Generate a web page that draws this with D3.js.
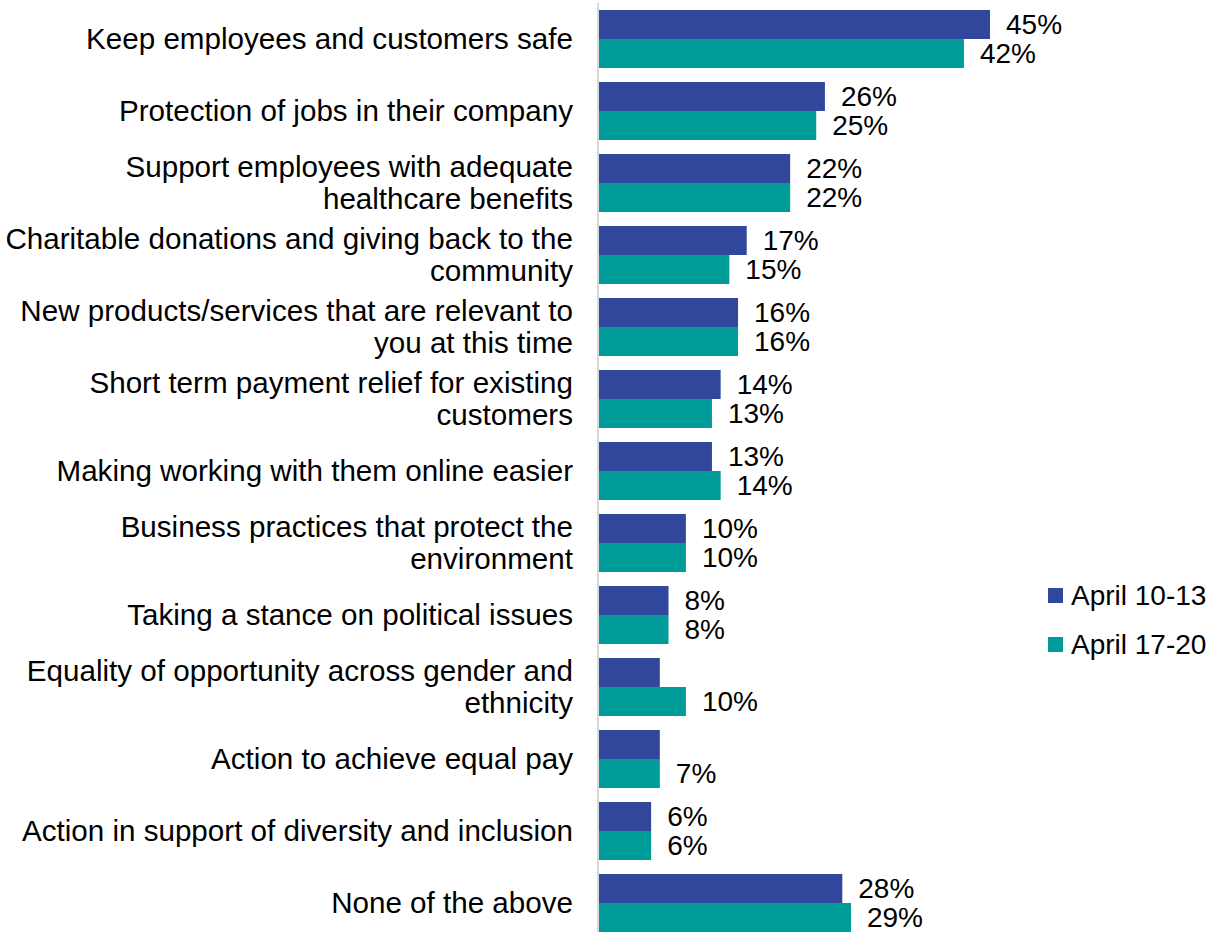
<!DOCTYPE html>
<html>
<head>
<meta charset="utf-8">
<script src="https://cdn.jsdelivr.net/npm/d3@7"></script>
<style>
    body { margin: 0; background: #fff; }
    text { font-family: "Liberation Sans", Arial, sans-serif; fill: #000; }
</style>
</head>
<body>
<div id="mainDiv"></div>
<script>
// categories, top to bottom ("|" marks a line break)
var categories = [
    'Keep employees and customers safe',
    'Protection of jobs in their company',
    'Support employees with adequate|healthcare benefits',
    'Charitable donations and giving back to the|community',
    'New products/services that are relevant to|you at this time',
    'Short term payment relief for existing|customers',
    'Making working with them online easier',
    'Business practices that protect the|environment',
    'Taking a stance on political issues',
    'Equality of opportunity across gender and|ethnicity',
    'Action to achieve equal pay',
    'Action in support of diversity and inclusion',
    'None of the above'
];
var seriesNames = [ 'April 10-13', 'April 17-20' ];
var april10 = [ 45, 26, 22, 17, 16, 14, 13, 10, 8, 7, 7, 6, 28 ];
var april17 = [ 42, 25, 22, 15, 16, 13, 14, 10, 8, 10, 7, 6, 29 ];
// data labels as shown (some are missing in the original)
var april10Labels = [ '45%', '26%', '22%', '17%', '16%', '14%', '13%', '10%', '8%', '', '', '6%', '28%' ];
var april17Labels = [ '42%', '25%', '22%', '15%', '16%', '13%', '14%', '10%', '8%', '10%', '7%', '6%', '29%' ];
var colors = [ '#31479b', '#009c9a' ];

var _width = 1214, _height = 932,
    _left = 598, _top = 3, _step = 72,
    _series = [ april10, april17 ],
    _labels = [ april10Labels, april17Labels ];

var svg = d3.select( '#mainDiv' )
    .append( 'svg' )
    .attr( 'width', _width )
    .attr( 'height', _height );

var x = d3.scaleLinear()
    .domain( [ 0, 45 ] )
    .range( [ _left + 1, _left + 1 + 391 ] );

var y = d3.scaleBand()
    .domain( d3.range( categories.length ) )
    .range( [ _top, _top + _step * categories.length ] )
    .paddingInner( 14 / 72 )
    .paddingOuter( 7 / 72 );

var ySub = d3.scaleBand()
    .domain( [ 0, 1 ] )
    .range( [ 0, y.bandwidth() ] );

// bars
var groups = svg.append( 'g' )
    .selectAll( 'g' )
    .data( categories )
    .join( 'g' )
    .attr( 'transform', function ( d, i ) { return 'translate(0,' + y( i ) + ')'; } );

groups.each( function ( d, i ) {
    var g = d3.select( this );
    _series.forEach( function ( s, k ) {
        g.append( 'rect' )
            .attr( 'x', x( 0 ) )
            .attr( 'y', ySub( k ) )
            .attr( 'width', x( s[ i ] ) - x( 0 ) )
            .attr( 'height', ySub.bandwidth() )
            .attr( 'fill', colors[ k ] );
        if ( _labels[ k ][ i ] ) {
            g.append( 'text' )
                .attr( 'x', x( s[ i ] ) + 16 )
                .attr( 'y', ySub( k ) + ySub.bandwidth() / 2 )
                .attr( 'dy', '0.35em' )
                .style( 'font-size', '28px' )
                .text( _labels[ k ][ i ] );
        }
    } );
} );

// axis line
svg.append( 'g' )
    .attr( 'transform', 'translate(' + _left + ',0)' )
    .call( d3.axisLeft( y ).tickSize( 0 ).tickFormat( '' ) )
    .call( function ( g ) {
        g.select( '.domain' )
            .attr( 'stroke', '#d9d9d9' )
            .attr( 'stroke-width', 2 )
            .attr( 'd', 'M0,' + _top + 'V' + _height );
    } );

// category labels
svg.append( 'g' )
    .selectAll( 'text' )
    .data( categories )
    .join( 'text' )
    .attr( 'text-anchor', 'end' )
    .style( 'font-size', '29.6px' )
    .each( function ( d, i ) {
        var lines = d.split( '|' ),
            cy = y( i ) + y.bandwidth() / 2,
            t = d3.select( this );
        lines.forEach( function ( line, j ) {
            t.append( 'tspan' )
                .attr( 'x', 573 )
                .attr( 'y', cy + ( j - ( lines.length - 1 ) / 2 ) * 32 )
                .attr( 'dy', '0.35em' )
                .text( line );
        } );
    } );

// legend
var legend = svg.append( 'g' )
    .selectAll( 'g' )
    .data( seriesNames )
    .join( 'g' )
    .attr( 'transform', function ( d, i ) { return 'translate(1048,' + ( 588 + i * 49 ) + ')'; } );
legend.append( 'rect' )
    .attr( 'width', 15 )
    .attr( 'height', 15 )
    .attr( 'fill', function ( d, i ) { return colors[ i ]; } );
legend.append( 'text' )
    .attr( 'x', 23 )
    .attr( 'y', 7.5 )
    .attr( 'dy', '0.35em' )
    .style( 'font-size', '28px' )
    .text( function ( d ) { return d; } );
</script>
</body>
</html>
